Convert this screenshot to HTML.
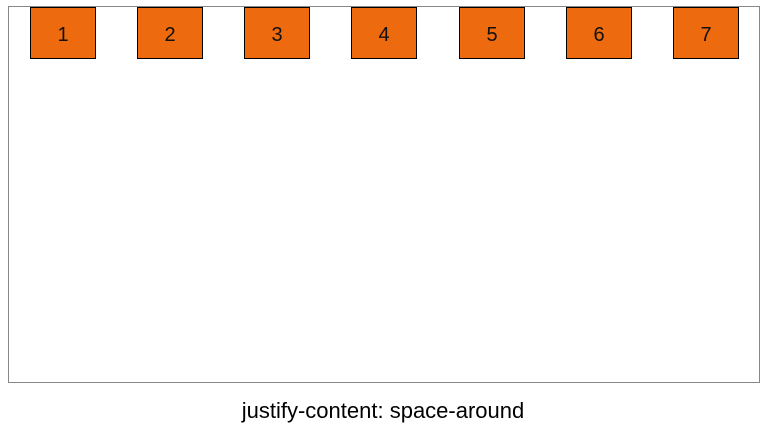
<!DOCTYPE html>
<html><head><style>
body{margin:0;width:766px;height:432px;background:#fff;position:relative;font-family:"Liberation Sans",sans-serif;}
.c{position:absolute;left:8px;top:6px;width:750px;height:375px;border:1px solid #888;}
.b{position:absolute;top:7px;width:64px;height:50px;background:#ee6a0e;border:1px solid #000;font-size:20px;line-height:54px;text-align:center;color:#111;}
.cap{position:absolute;left:0;width:766px;top:398px;text-align:center;font-size:22px;color:#000;}
</style></head><body>
<div class="c"></div>
<div class="b" style="left:30px">1</div>
<div class="b" style="left:137px">2</div>
<div class="b" style="left:244px">3</div>
<div class="b" style="left:351px">4</div>
<div class="b" style="left:459px">5</div>
<div class="b" style="left:566px">6</div>
<div class="b" style="left:673px">7</div>
<div class="cap">justify-content: space-around</div>
</body></html>
